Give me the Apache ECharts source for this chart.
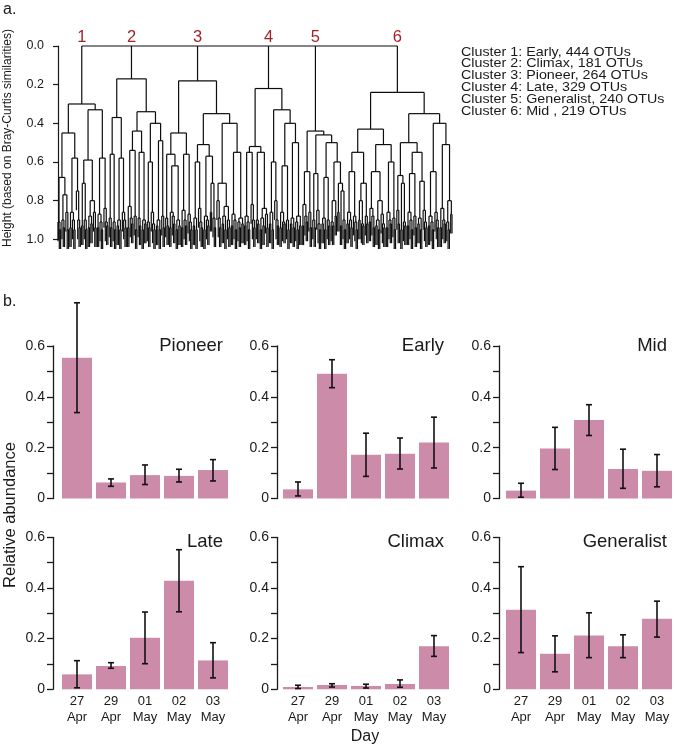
<!DOCTYPE html>
<html><head><meta charset="utf-8">
<script src="https://cdn.jsdelivr.net/npm/echarts@6/dist/echarts.min.js"></script>
<style>html,body{margin:0;padding:0;background:#fff}#c{width:675px;height:746px}</style>
</head><body><div id="c"></div>
<script>
const FONT = '"Liberation Sans", Arial, Helvetica, sans-serif';

// ---------- Panel a: dendrogram ----------
// Tree notation: '(' children ')' + merge height in hundredths; '.' = leaf (OTU group)
const clusterLabels = ['1', '2', '3', '4', '5', '6'];
const cluster1 = '(' + '(' + '((.(..)95)91((.(..)94)90(.(..)95)86)77)68' + '(((..)94(.(..)95)90)86(.(.(..)94)90)75)58' + ')45'
  + '(' + '(((..)93(.(..)95)90)71(((..)94(..)92)88(.(..)94)86)80)59' + '(((..)94(.(..)95)91)87(.(.(..)93)91)84)58' + ')33' + ')30';
const cluster2 = '(' + '(' + '((.(..)94)89(.(..)95)91)56' + '(((..)93(..)95)90(.(.(..)94)90)86)58' + ')37'
  + '(' + '(' + '(((..)94(.(..)92)89)83(.(..)95)88)54' + '((.(..)93)89((..)95(..)92)90)55' + ')44'
  + '(' + '((.(..)94)91(.(.(..)95)92)86)60' + '(((..)93(..)95)90(.(..)94)88)49' + ')40' + ')34' + ')17';
const cluster3 = '(' + '(' + '(' + '(.(..)93)89' + '(((..)94(.(..)92)88)86((..)95(..)93)90)62' + ')56' + '(((..)94(.(..)93)90)85(.(.(..)95)91)87)56' + ')45'
  + '(' + '(' + '(((..)93(..)95)89(.(.(..)94)91)84)60' + '(((..)95(.(..)93)90)88((..)86(.(..)94)89)71)57' + ')51'
  + '(' + '((.(.(..)94)89)80(((..)92(..)95)88(.(..)94)90)83)71' + '(((..)93(.(..)95)90)87((.(..)94)91(..)92)89)55' + ')40' + ')35' + ')18';
const cluster4 = '(' + '(' + '(((..)93(.(..)95)91)88(.(.(..)94)90)82)55' + '((.(..)92)90(((..)95(..)93)89(.(..)94)87)84)55' + ')52'
  + '(' + '(((..)92(..)95)86(.(.(..)93)90)80)60' + '(' + '(((..)94(.(..)92)91)86(.(..)95)90)62' + '(((..)92(..)94)89((.(..)95)91(..)93)88)50' + ')40' + ')33' + ')22';
const cluster5 = '(' + '(((..)93(.(..)91)88)82(.(..)94)86)65' + '(' + '((.(..)94)90(.(.(..)95)92)85)66' + '(' + '(((..)92(..)95)89(.(..)93)90)68'
  + '(' + '((.(..)93)91(..)88)80' + '((..)86((..)93(.(..)95)90)75)71' + ')60' + ')50' + ')46' + ')44';
const cluster6 = '(' + '(' + '(' + '(((..)92(.(..)94)90)86(.(.(..)95)91)88)65' + '(((..)90(.(..)93)92)80(.(..)92)88)71' + ')55'
  + '(' + '(' + '((..)91(.(..)94)88)84' + '(((..)93(..)95)90(.(.(..)94)92)87)80' + ')65' + '(((..)94(.(..)92)90)86(.(..)95)89)60' + ')51' + ')43'
  + '(' + '(' + '((.(..)92)85((..)95(.(..)93)91)71)67' + '((((..)93(.(..)95)90)86(.(..)94)88)66(((..)92(..)95)89(.(.(..)94)91)85)70)55' + ')50'
  + '(' + '(((..)93(.(..)95)91)88(.(.(..)94)90)86)65' + '(((..)94(.(..)92)90)84((.(..)95)91(..)87)80)51' + ')40' + ')35' + ')24';
const rootHeight = '00';
const leafHang = 0.1;
const heightAxisName = 'Height (based on Bray-Curtis similarities)';

const legendLines = [
  'Cluster 1: Early, 444 OTUs',
  'Cluster 2: Climax, 181 OTUs',
  'Cluster 3: Pioneer, 264 OTUs',
  'Cluster 4: Late, 329 OTUs',
  'Cluster 5: Generalist, 240 OTUs',
  'Cluster 6: Mid , 219 OTUs'
];

// ---------- Panel b: relative abundance ----------
const days = ['27\nApr', '29\nApr', '01\nMay', '02\nMay', '03\nMay'];
const groupNames = ['Pioneer', 'Early', 'Mid', 'Late', 'Climax', 'Generalist'];
const pioneerMean = [0.554, 0.063, 0.092, 0.089, 0.112];
const pioneerLow  = [0.338, 0.048, 0.055, 0.065, 0.069];
const pioneerHigh = [0.770, 0.077, 0.132, 0.115, 0.153];
const earlyMean = [0.036, 0.491, 0.172, 0.176, 0.220];
const earlyLow  = [0.010, 0.436, 0.087, 0.116, 0.120];
const earlyHigh = [0.065, 0.546, 0.257, 0.238, 0.320];
const midMean = [0.031, 0.197, 0.309, 0.116, 0.109];
const midLow  = [0.005, 0.114, 0.248, 0.040, 0.046];
const midHigh = [0.060, 0.280, 0.369, 0.194, 0.173];
const lateMean = [0.059, 0.092, 0.203, 0.428, 0.114];
const lateLow  = [0.006, 0.083, 0.101, 0.306, 0.045];
const lateHigh = [0.113, 0.105, 0.305, 0.551, 0.184];
const climaxMean = [0.009, 0.017, 0.013, 0.021, 0.170];
const climaxLow  = [0.003, 0.009, 0.005, 0.008, 0.130];
const climaxHigh = [0.016, 0.022, 0.020, 0.037, 0.212];
const generalistMean = [0.314, 0.140, 0.212, 0.170, 0.278];
const generalistLow  = [0.145, 0.069, 0.125, 0.125, 0.206];
const generalistHigh = [0.484, 0.211, 0.302, 0.215, 0.348];
const abundanceTicks = ['0', '0.2', '0.4', '0.6'];

const means = [pioneerMean, earlyMean, midMean, lateMean, climaxMean, generalistMean];
const lows = [pioneerLow, earlyLow, midLow, lateLow, climaxLow, generalistLow];
const highs = [pioneerHigh, earlyHigh, midHigh, lateHigh, climaxHigh, generalistHigh];

// ---------- tree parsing & layout ----------
function parseTree(s) {
  let i = 0;
  function node() {
    if (s[i] === '.') { i++; return { leaf: true }; }
    if (s[i] !== '(') throw new Error('bad tree at ' + i);
    i++;
    const ch = [];
    while (s[i] !== ')') { if (i >= s.length) throw new Error('unbalanced'); ch.push(node()); }
    i++;
    const h = parseInt(s.substr(i, 2), 10) / 100;
    i += 2;
    return { h: h, ch: ch };
  }
  const t = node();
  if (i !== s.length) throw new Error('trailing at ' + i + ' of ' + s.length);
  return t;
}
const root = parseTree('(' + [cluster1, cluster2, cluster3, cluster4, cluster5, cluster6].join('') + ')' + rootHeight);
let leafCount = 0;
function place(n) {
  if (n.leaf) { n.x = leafCount++; return; }
  n.ch.forEach(place);
  n.x = (n.ch[0].x + n.ch[n.ch.length - 1].x) / 2;
}
place(root);
const segments = [];
function collect(n) {
  if (n.leaf) return;
  segments.push([n.ch[0].x, n.h, n.ch[n.ch.length - 1].x, n.h]);
  n.ch.forEach(c => {
    segments.push([c.x, n.h, c.x, c.leaf ? n.h + leafHang : c.h]);
    collect(c);
  });
}
collect(root);
const clusterTops = root.ch.map(c => [c.x, root.h]);

// dendrogram grid spans x 50..455, leaves from 58 to 452
const dLeft = 50, dRight = 455, leafFirstPx = 58, leafLastPx = 452;
const pxPerLeaf = (leafLastPx - leafFirstPx) / (leafCount - 1);
const dxMin = -(leafFirstPx - dLeft) / pxPerLeaf;
const dxMax = (leafCount - 1) + (dRight - leafLastPx) / pxPerLeaf;

// ---------- build option ----------
const colLeft = [60, 281, 504];
const yOffset = [7, 4, 5];
const rowTop = [346, 537.3];
const rowH = [152.5, 152];
const barColor = '#cc8ba8';
const ink = '#1a1a1a';

const grids = [{ left: dLeft, top: 46, width: dRight - dLeft, height: 193.3 }];
const xAxes = [{ type: 'value', gridIndex: 0, min: dxMin, max: dxMax, show: false }];
const yAxes = [{
  type: 'value', gridIndex: 0, inverse: true, min: 0, max: 1, interval: 0.2,
  axisLine: { show: true, lineStyle: { color: ink, width: 1.2 } },
  axisTick: { show: true, length: 5, lineStyle: { color: ink, width: 1.2 } },
  axisLabel: { formatter: v => v.toFixed(1), fontSize: 12.5, color: ink, margin: 6, fontFamily: FONT },
  splitLine: { show: false }
}];
const series = [{
  type: 'custom', xAxisIndex: 0, yAxisIndex: 0, silent: true, clip: false,
  data: segments,
  encode: { x: [0, 2], y: [1, 3] },
  renderItem: function (params, api) {
    const p1 = api.coord([api.value(0), api.value(1)]);
    const p2 = api.coord([api.value(2), api.value(3)]);
    return { type: 'line', shape: { x1: p1[0], y1: p1[1], x2: p2[0], y2: p2[1] },
      style: { stroke: '#0d0d0d', lineWidth: 1.2 } };
  }
}, {
  type: 'custom', xAxisIndex: 0, yAxisIndex: 0, silent: true, clip: false,
  data: clusterTops,
  encode: { x: 0, y: 1 },
  renderItem: function (params, api) {
    const p = api.coord([api.value(0), api.value(1)]);
    return { type: 'text', x: p[0], y: p[1] - 9,
      style: { text: clusterLabels[params.dataIndex], fill: '#a3222a', fontSize: 16.5, fontFamily: FONT,
        align: 'center', verticalAlign: 'middle' } };
  }
}];

const graphics = [
  { type: 'text', x: 3, y: 10, style: { text: 'a.', fontSize: 16, fontFamily: FONT, fill: ink, verticalAlign: 'middle' } },
  { type: 'text', x: 3, y: 302, style: { text: 'b.', fontSize: 16, fontFamily: FONT, fill: ink, verticalAlign: 'middle' } },
  { type: 'text', x: 8, y: 138, rotation: Math.PI / 2,
    style: { text: heightAxisName, fontSize: 12, fontFamily: FONT, fill: ink, align: 'center', verticalAlign: 'middle' } },
  { type: 'text', x: 10, y: 515, rotation: Math.PI / 2,
    style: { text: 'Relative abundance', fontSize: 16.5, fontFamily: FONT, fill: ink, align: 'center', verticalAlign: 'middle' } },
  { type: 'text', x: 365, y: 737,
    style: { text: 'Day', fontSize: 16, fontFamily: FONT, fill: ink, align: 'center', verticalAlign: 'middle' } }
];
legendLines.forEach((t, k) => {
  graphics.push({ type: 'text', x: 461, y: 52 + 11.8 * k, scaleX: 1.1,
    style: { text: t, fontSize: 13, fontFamily: FONT, fill: ink, verticalAlign: 'middle' } });
});

groupNames.forEach((name, p) => {
  const r = Math.floor(p / 3), c = p % 3;
  const gi = p + 1;
  grids.push({ left: colLeft[c], top: rowTop[r], width: 170, height: rowH[r] });
  xAxes.push({
    type: 'category', gridIndex: gi, data: days,
    axisLine: { show: false }, axisTick: { show: false },
    axisLabel: { show: r === 1, interval: 0, fontSize: 13, lineHeight: 16, color: ink, margin: 4, fontFamily: FONT }
  });
  yAxes.push({
    type: 'value', gridIndex: gi, min: 0, max: 0.6, interval: 0.1, offset: yOffset[c],
    axisLine: { show: true, lineStyle: { color: ink, width: 1.3 } },
    axisTick: { show: true, length: 6, lineStyle: { color: ink, width: 1.3 } },
    axisLabel: {
      fontSize: 14, color: ink, margin: 8, fontFamily: FONT,
      formatter: v => { const k = Math.round(v * 10); return k % 2 === 0 ? abundanceTicks[k / 2] : ''; }
    },
    splitLine: { show: false }
  });
  series.push({
    type: 'bar', xAxisIndex: gi, yAxisIndex: gi, data: means[p], barWidth: 30, silent: true,
    itemStyle: { color: barColor }
  });
  series.push({
    type: 'custom', xAxisIndex: gi, yAxisIndex: gi, silent: true, clip: false, z: 5,
    data: lows[p].map((lo, k) => [k, lo, highs[p][k]]),
    encode: { x: 0, y: [1, 2] },
    renderItem: function (params, api) {
      const a = api.coord([api.value(0), api.value(1)]);
      const b = api.coord([api.value(0), api.value(2)]);
      const w = 3;
      const st = { stroke: '#111', lineWidth: 1.6 };
      return { type: 'group', children: [
        { type: 'line', shape: { x1: a[0], y1: a[1], x2: b[0], y2: b[1] }, style: st },
        { type: 'line', shape: { x1: a[0] - w, y1: a[1], x2: a[0] + w, y2: a[1] }, style: st },
        { type: 'line', shape: { x1: b[0] - w, y1: b[1], x2: b[0] + w, y2: b[1] }, style: st }
      ] };
    }
  });
  graphics.push({ type: 'text', x: colLeft[c] + 170 - 7, y: r === 0 ? 346 : 541.5,
    style: { text: name, fontSize: 18.5, fontFamily: FONT, fill: ink, align: 'right', verticalAlign: 'middle' } });
});

const chart = echarts.init(document.getElementById('c'), null, { renderer: 'canvas' });
chart.setOption({
  animation: false,
  backgroundColor: '#fff',
  grid: grids, xAxis: xAxes, yAxis: yAxes, series: series, graphic: graphics
});
</script></body></html>
